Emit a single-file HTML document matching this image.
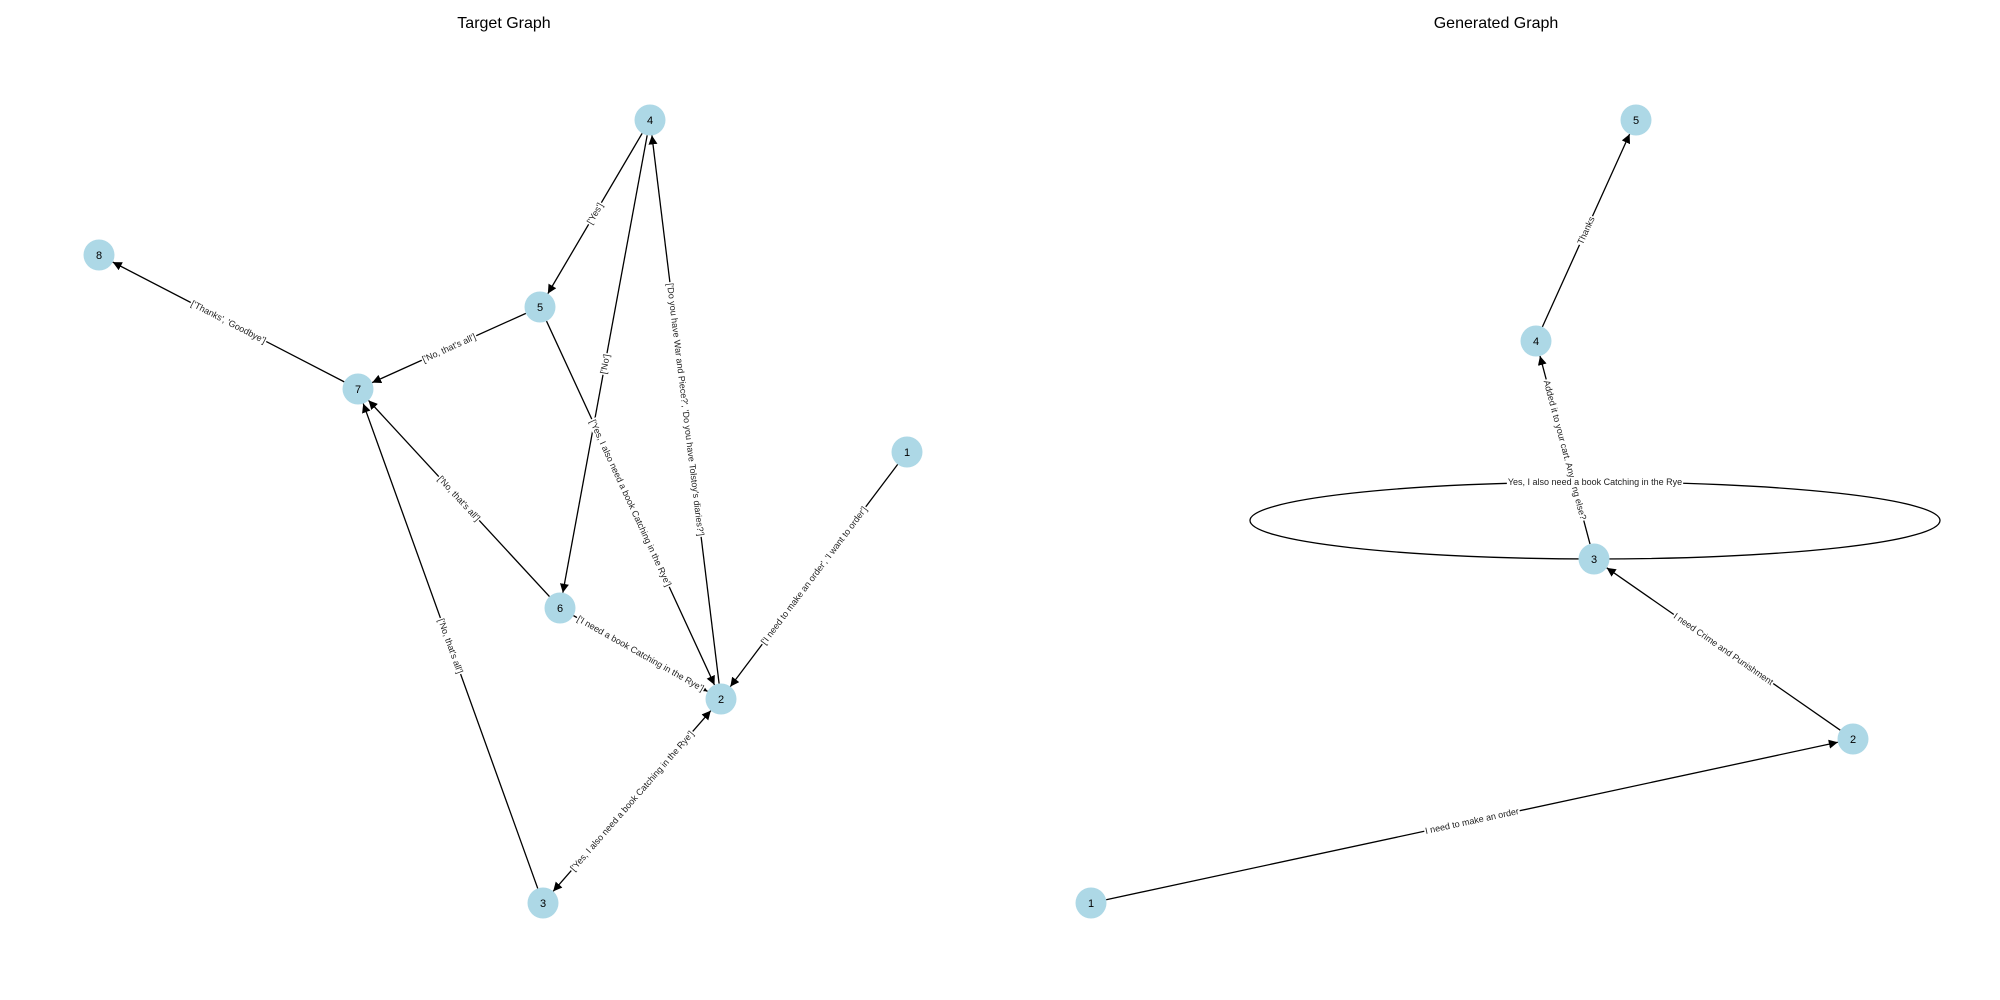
<!DOCTYPE html>
<html><head><meta charset="utf-8">
<style>
html,body{margin:0;padding:0;background:#fff;}
svg{display:block;font-family:"Liberation Sans","DejaVu Sans",sans-serif;}
</style></head>
<body>
<svg id="chart" width="2000" height="1000" viewBox="0 0 2000 1000">
<defs>
<marker id="arr" viewBox="0 0 10 10" refX="10" refY="5" markerWidth="9" markerHeight="9" markerUnits="userSpaceOnUse" orient="auto-start-reverse">
<path d="M0,0 L10,5 L0,10 z" fill="#000"/>
</marker>
</defs>
<text x="504" y="28" font-size="16" text-anchor="middle">Target Graph</text>
<text x="1496" y="28" font-size="16" text-anchor="middle">Generated Graph</text>
<g id="left"></g>
<g id="right"></g>
</svg>
<script>
// Target graph data (layout coordinates in units of 10px)
const leftNodes = ['1','2','3','4','5','6','7','8'];
const leftNodeX = [90.7,72.1,54.3,65.0,54.0,56.0,35.8,9.9];
const leftNodeY = [45.2,69.9,90.3,12.0,30.7,60.8,38.9,25.5];
const leftEdgeFrom = ['4','5','7','4','5','2','1','6','6','3','2'];
const leftEdgeTo   = ['5','7','8','6','2','4','2','7','2','7','3'];
const leftEdgeLabels = ["['Yes']","['No, that's all']","['Thanks', 'Goodbye']","['No']","['Yes, I also need a book Catching in the Rye']","['Do you have War and Piece?', 'Do you have Tolstoy's diaries?']","['I need to make an order', 'I want to order']","['No, that's all']","['I need a book Catching in the Rye']","['No, that's all']","['Yes, I also need a book Catching in the Rye']"];
const leftEdgeBoth = [false,false,false,false,false,false,false,false,false,false,true];

// Generated graph data
const rightNodes = ['1','2','3','4','5'];
const rightNodeX = [109.1,185.3,159.4,153.6,163.6];
const rightNodeY = [90.3,73.9,55.9,34.1,12.0];
const rightEdgeFrom = ['1','2','3','4'];
const rightEdgeTo   = ['2','3','4','5'];
const rightEdgeLabels = ["I need to make an order","I need Crime and Punishment","Added it to your cart. Anything else?","Thanks"];
const loopNode = '3';
const loopLabel = "Yes, I also need a book Catching in the Rye";

const sx = v => v*10, sy = v => v*10;
const R = 15.5, NS = 'http://www.w3.org/2000/svg';

function mk(tag, attrs, parent){
  const e = document.createElementNS(NS, tag);
  for (const k in attrs) e.setAttribute(k, attrs[k]);
  parent.appendChild(e); return e;
}
function label(g, x, y, ang, txt){
  if (ang > 90) ang -= 180; if (ang < -90) ang += 180;
  const t = mk('g', {transform:`translate(${x},${y}) rotate(${ang})`}, g);
  
  
  const tx = mk('text', {x:0, y:3, 'font-size':9, 'text-anchor':'middle', fill:'#222'}, t);
  tx.textContent = txt;
  const w = tx.getComputedTextLength();
  const bg = mk('rect', {x:-w/2-1, y:-5, width:w+2, height:10, fill:'#fff'}, t);
  t.insertBefore(bg, tx);
}
function drawGraph(g, nodes, X, Y, from, to, labels, both){
  const pos = {};
  nodes.forEach((n,i)=>pos[n]=[sx(X[i]), sy(Y[i])]);
  const eg = mk('g', {}, g), lg = mk('g', {}, g), ng = mk('g', {}, g);
  from.forEach((f,i)=>{
    const [x1,y1] = pos[f], [x2,y2] = pos[to[i]];
    const dx=x2-x1, dy=y2-y1, L=Math.hypot(dx,dy), ux=dx/L, uy=dy/L;
    const ln = mk('line', {x1:x1+ux*R, y1:y1+uy*R, x2:x2-ux*R, y2:y2-uy*R, stroke:'#000', 'stroke-width':1.3, 'marker-end':'url(#arr)'}, eg);
    if (both && both[i]) ln.setAttribute('marker-start','url(#arr)');
    
    
    label(lg, (x1+x2)/2, (y1+y2)/2, Math.atan2(dy,dx)*180/Math.PI, labels[i]);
  });
  nodes.forEach(n=>{
    const [x,y] = pos[n];
    const c = mk('g', {}, ng);
    
    
    mk('circle', {cx:x, cy:y, r:R, fill:'#add8e6'}, c);
    const t = mk('text', {x:x, y:y+4, 'font-size':11, 'text-anchor':'middle', fill:'#000'}, c);
    t.textContent = n;
  });
  return {pos, eg, lg, ng};
}
drawGraph(document.getElementById('left'), leftNodes, leftNodeX, leftNodeY, leftEdgeFrom, leftEdgeTo, leftEdgeLabels, leftEdgeBoth);
const rg = drawGraph(document.getElementById('right'), rightNodes, rightNodeX, rightNodeY, rightEdgeFrom, rightEdgeTo, rightEdgeLabels, null);
// self loop
const [lx, ly] = rg.pos[loopNode];
const loop = mk('ellipse', {cx:lx+1, cy:ly-38.5, rx:345, ry:38.5, fill:'none', stroke:'#000', 'stroke-width':1.3}, rg.eg);


label(rg.lg, lx+1, ly-77, 0, loopLabel);
</script>
</body></html>
